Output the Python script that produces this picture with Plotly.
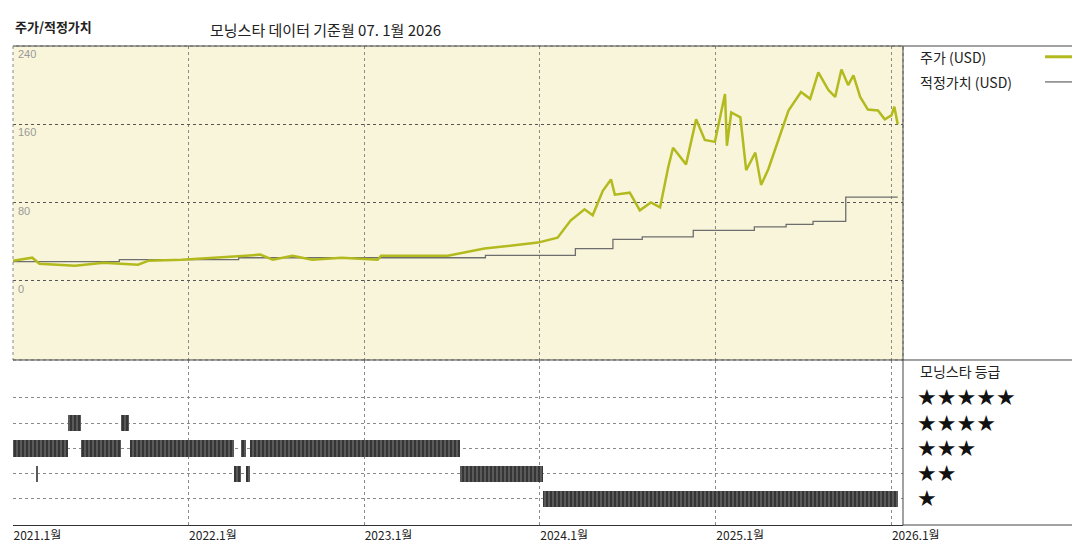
import plotly.graph_objects as go
import pandas as pd

price_dates = ["2021-01-01","2021-02-10","2021-02-25","2021-05-10","2021-07-08","2021-09-18","2021-10-10","2021-12-18",
 "2022-04-30","2022-05-30","2022-06-25","2022-08-05","2022-09-15","2022-11-15","2023-01-29","2023-02-05","2023-05-12",
 "2023-06-24","2023-09-08","2023-12-28","2024-02-07","2024-03-05","2024-04-03","2024-04-20","2024-05-11","2024-05-28",
 "2024-06-05","2024-07-06","2024-07-27","2024-08-19","2024-09-07","2024-09-24","2024-10-04","2024-10-31","2024-11-21",
 "2024-12-09","2024-12-30","2025-01-20","2025-01-24","2025-02-02","2025-02-21","2025-03-05","2025-03-24","2025-04-05",
 "2025-04-20","2025-05-17","2025-06-01","2025-06-27","2025-07-16","2025-08-02","2025-08-23","2025-09-06","2025-09-19",
 "2025-10-03","2025-10-14","2025-10-28","2025-11-13","2025-12-04","2025-12-18","2026-01-01","2026-01-07","2026-01-14"]
price_vals = [20.5,23.6,17.4,15.4,18.5,16.4,20.5,21.5,
 25.6,26.7,21.5,25.6,21.5,23.6,21.5,25.6,25.6,
 25.6,33,39,44,61.5,73,67,92,103.6,
 88,90,72,80,75,116,136,119,165,
 144,142,191,138,172,167,113,131,98,
 114,154,174,193,186,213,195,188,216,
 200,210,188,175,174,165,169,178,160]

fair_dates = ["2021-01-01","2021-08-10","2022-04-15","2023-09-10","2024-03-15","2024-06-01","2024-08-01","2024-11-15",
 "2025-03-22","2025-05-27","2025-07-22","2025-09-28","2026-01-14"]
fair_vals = [19.5,21.5,23.5,26,32.8,42.4,44.8,51.6,55,57.7,60.8,85.5,85.5]

rating_start = ["2021-01-01","2021-02-18","2021-04-25","2021-05-22","2021-08-14","2021-09-02","2022-04-05","2022-04-20","2022-05-01","2022-05-08","2023-07-20","2024-01-07"]
rating_end   = ["2021-04-25","2021-02-22","2021-05-22","2021-08-14","2021-08-30","2022-04-05","2022-04-20","2022-05-01","2022-05-08","2023-07-20","2024-01-07","2026-01-14"]
rating_level = [3,2,4,3,4,3,2,3,2,3,2,1]

tick_years = [2021,2022,2023,2024,2025,2026]
y_ticks = [0,80,160,240]

GRID = "#8a8a8a"
fig = go.Figure()
fig.add_trace(go.Scatter(x=fair_dates, y=fair_vals, mode="lines", line=dict(color="#6e6e6e", width=1.3, shape="hv"), yaxis="y", xaxis="x"))
fig.add_trace(go.Scatter(x=price_dates, y=price_vals, mode="lines", line=dict(color="#b2ba1e", width=2.5), yaxis="y", xaxis="x"))

starts = pd.to_datetime(rating_start); ends = pd.to_datetime(rating_end)
durs = [(e - s).total_seconds()*1000 for s, e in zip(starts, ends)]
fig.add_trace(go.Bar(y=rating_level, x=durs, base=rating_start, orientation="h", width=0.65,
    marker=dict(color="#4a4a4a", line=dict(width=0),
                pattern=dict(shape="|", fgcolor="#000000", bgcolor="#5a5a5a", size=4, solidity=0.4)),
    xaxis="x2", yaxis="y2"))

tickvals = [f"{y}-01-01" for y in tick_years]
ticktext = [f"{y},1월" for y in tick_years]
xr = ["2021-01-01", "2026-01-25"]
axcommon = dict(type="date", range=xr, tickvals=tickvals, showgrid=True, gridcolor=GRID, griddash="dot", gridwidth=1, zeroline=False)
fig.update_layout(
    width=1080, height=540, showlegend=False, bargap=0,
    margin=dict(l=5, r=185, t=38, b=23, autoexpand=False),
    paper_bgcolor="white", plot_bgcolor="white",
    font=dict(family="Noto Sans CJK KR", color="#222"),
    xaxis=dict(**axcommon, domain=[0,1], anchor="y", showticklabels=False, ticks=""),
    yaxis=dict(domain=[0.3445,1], range=[-81,240], tickvals=y_ticks, showticklabels=False, showgrid=True,
               gridcolor="#555", griddash="dot", zeroline=False),
    xaxis2=dict(**axcommon, domain=[0,1], anchor="y2", ticktext=ticktext, ticklabelposition="outside right",
                tickfont=dict(size=12, color="#222"), ticks="", ticklen=0, showline=True, linecolor="#333", linewidth=1),
    yaxis2=dict(domain=[0,0.3445], range=[-0.03,6.5], tickvals=[1,2,3,4,5], showticklabels=False, showgrid=True,
                gridcolor=GRID, griddash="dot", zeroline=False),
)
fig.add_shape(type="rect", xref="x domain", yref="y domain", x0=0, x1=1, y0=0, y1=1, fillcolor="#f9f5da", line=dict(width=0), layer="below")
fig.add_shape(type="rect", xref="x domain", yref="y domain", x0=0, x1=1, y0=0, y1=1, line=dict(color="#888", width=1, dash="dot"))
fig.add_shape(type="line", xref="paper", yref="paper", x0=0, x1=1.2, y0=1, y1=1, line=dict(color="#444", width=1))
fig.add_shape(type="line", xref="paper", yref="paper", x0=0, x1=1.2, y0=0.3445, y1=0.3445, line=dict(color="#444", width=1))
fig.add_shape(type="line", xref="paper", yref="paper", x0=1, x1=1, y0=0, y1=1, line=dict(color="#444", width=1))
fig.add_shape(type="line", xref="paper", yref="paper", x0=1, x1=1.2, y0=0, y1=0, line=dict(color="#444", width=1))

for v in y_ticks:
    fig.add_annotation(x=0.003, xref="paper", y=v, yref="y", text=str(v), showarrow=False, xanchor="left", yanchor="top",
                       font=dict(size=11, color="#999", family="Liberation Sans"))
fig.add_annotation(x=0, xref="paper", y=1, yref="paper", yshift=20, text="<b>주가/적정가치</b>", showarrow=False,
                   xanchor="left", yanchor="middle", font=dict(size=13))
fig.add_annotation(x=0.219, xref="paper", y=1, yref="paper", yshift=17, text="모닝스타 데이터 기준월 07. 1월 2026", showarrow=False,
                   xanchor="left", yanchor="middle", font=dict(size=15))
fig.add_annotation(x=1.017, xref="paper", y=1, yref="paper", yshift=-11, text="주가 (USD)", showarrow=False,
                   xanchor="left", yanchor="middle", font=dict(size=14))
fig.add_annotation(x=1.017, xref="paper", y=1, yref="paper", yshift=-36, text="적정가치 (USD)", showarrow=False,
                   xanchor="left", yanchor="middle", font=dict(size=14))
fig.add_shape(type="line", xref="paper", yref="paper", x0=1.1596, x1=1.1933, y0=0.9775, y1=0.9775, line=dict(color="#b2ba1e", width=3))
fig.add_shape(type="line", xref="paper", yref="paper", x0=1.1596, x1=1.1933, y0=0.925, y1=0.925, line=dict(color="#6e6e6e", width=1.3))
fig.add_annotation(x=1.017, xref="paper", y=0.3445, yref="paper", yshift=-11, text="모닝스타 등급", showarrow=False,
                   xanchor="left", yanchor="middle", font=dict(size=14))
for r in [1,2,3,4,5]:
    fig.add_annotation(x=1.014, xref="paper", y=r, yref="y2", text="★"*r, showarrow=False, xanchor="left", yanchor="middle",
                       font=dict(size=22, color="#111", family="DejaVu Sans"))
fig.write_html("out.html")
